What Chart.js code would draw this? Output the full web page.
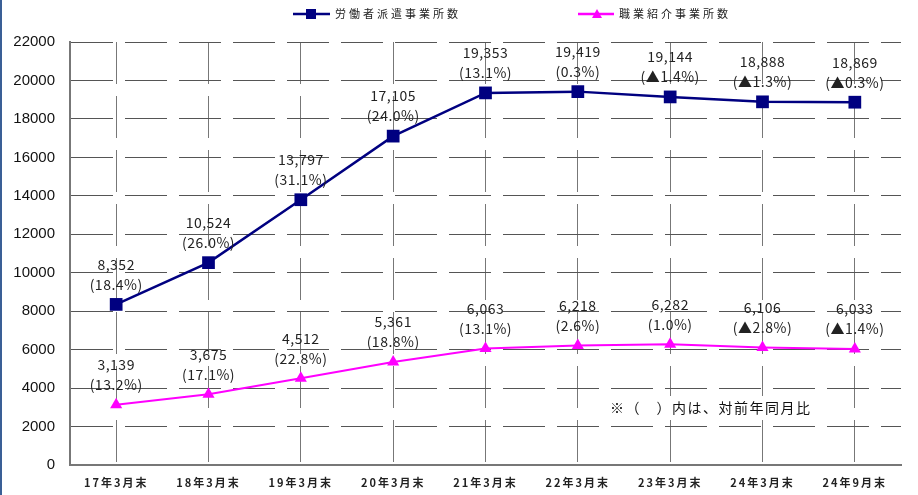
<!DOCTYPE html>
<html>
<head>
<meta charset="utf-8">
<script src="https://cdn.jsdelivr.net/npm/chart.js@4/dist/chart.umd.min.js"></script>
<style>
  html, body { margin: 0; padding: 0; background: #fff; }
  #wrap { position: relative; width: 918px; height: 495px; }
</style>
</head>
<body>
<div id="wrap"><canvas id="chart" width="918" height="495"></canvas></div>
<script>
'use strict';

// Data.
var categories = ['17年3月末', '18年3月末', '19年3月末', '20年3月末', '21年3月末',
  '22年3月末', '23年3月末', '24年3月末', '24年9月末'];
var dispatchCounts = [8352, 10524, 13797, 17105, 19353, 19419, 19144, 18888, 18869];
var dispatchRates = ['18.4%', '26.0%', '31.1%', '24.0%', '13.1%', '0.3%', '▲1.4%', '▲1.3%', '▲0.3%'];
var placementCounts = [3139, 3675, 4512, 5361, 6063, 6218, 6282, 6106, 6033];
var placementRates = ['13.2%', '17.1%', '22.8%', '18.8%', '13.1%', '2.6%', '1.0%', '▲2.8%', '▲1.4%'];
var seriesNames = ['労働者派遣事業所数', '職業紹介事業所数'];
var note = '※（　）内は、対前年同月比';

var NAVY = '#000080',
    MAGENTA = '#ff00ff',
    JP_FONT = '"Noto Sans CJK JP", "Noto Sans", sans-serif';

// Category scale whose tick labels are drawn with a little letter spacing,
// like the original's gothic font.
var CategoryScale = Chart.registry.getScale('category');
class SpacedCategoryScale extends CategoryScale {
  drawLabels(area) {
    var ctx = this.ctx;
    ctx.save();
    ctx.letterSpacing = '2px';
    super.drawLabels(area);
    ctx.restore();
  }
}
SpacedCategoryScale.id = 'spacedCategory';
SpacedCategoryScale.defaults = CategoryScale.defaults;
Chart.register(SpacedCategoryScale);

function formatCount(v) {
  return v.toLocaleString('en-US');
}

// Value labels above each point: count on top, rate in brackets below.
var valueLabels = {
  id: 'valueLabels',
  afterDatasetsDraw: function (chart) {
    var ctx = chart.ctx;
    var rates = [dispatchRates, placementRates];
    ctx.save();
    ctx.font = '14px ' + JP_FONT;
    ctx.letterSpacing = '0.5px';
    ctx.fillStyle = '#222';
    ctx.textAlign = 'center';
    ctx.textBaseline = 'middle';
    chart.data.datasets.forEach(function (ds, di) {
      var meta = chart.getDatasetMeta(di);
      meta.data.forEach(function (pt, i) {
        ctx.fillText(formatCount(ds.data[i]), pt.x, pt.y - 40);
        ctx.fillText('(' + rates[di][i] + ')', pt.x, pt.y - 20);
      });
    });
    ctx.restore();
  }
};

// Legend at the top, note box inside the plot, thin frame line on the left.
var decorations = {
  id: 'decorations',
  afterDraw: function (chart) {
    var ctx = chart.ctx;
    ctx.save();

    // left frame edge
    ctx.fillStyle = '#3a5f96';
    ctx.fillRect(0, 0, 2, chart.height);

    // legend
    var y = 14;
    ctx.lineWidth = 2.5;
    ctx.strokeStyle = NAVY;
    ctx.beginPath(); ctx.moveTo(293, y); ctx.lineTo(330, y); ctx.stroke();
    ctx.fillStyle = NAVY;
    ctx.fillRect(306, y - 5, 10, 10);

    ctx.strokeStyle = MAGENTA;
    ctx.beginPath(); ctx.moveTo(578, y); ctx.lineTo(614, y); ctx.stroke();
    ctx.fillStyle = MAGENTA;
    ctx.beginPath();
    ctx.moveTo(597, y - 5); ctx.lineTo(602, y + 4); ctx.lineTo(592, y + 4);
    ctx.closePath(); ctx.fill();

    ctx.font = '11px ' + JP_FONT;
    ctx.letterSpacing = '3px';
    ctx.fillStyle = '#222';
    ctx.textAlign = 'left';
    ctx.textBaseline = 'middle';
    ctx.fillText(seriesNames[0], 335, y);
    ctx.fillText(seriesNames[1], 619, y);

    // note
    ctx.fillStyle = '#fff';
    ctx.fillRect(602, 396, 222, 24);
    ctx.font = '14px ' + JP_FONT;
    ctx.letterSpacing = '1.5px';
    ctx.fillStyle = '#111';
    ctx.fillText(note, 610, 408);

    ctx.restore();
  }
};

new Chart(document.getElementById('chart'), {
  type: 'line',
  data: {
    labels: categories,
    datasets: [{
      label: seriesNames[0],
      data: dispatchCounts,
      borderColor: NAVY,
      backgroundColor: NAVY,
      borderWidth: 2.5,
      pointStyle: 'rect',
      pointRadius: 9,
      pointBorderWidth: 0,
      tension: 0
    }, {
      label: seriesNames[1],
      data: placementCounts,
      borderColor: MAGENTA,
      backgroundColor: MAGENTA,
      borderWidth: 2,
      pointStyle: 'triangle',
      pointRadius: 7,
      pointBorderWidth: 0,
      tension: 0
    }]
  },
  options: {
    responsive: false,
    animation: false,
    devicePixelRatio: 1,
    layout: { padding: { top: 42, right: 17, bottom: 0, left: 0 } },
    plugins: {
      legend: { display: false },
      tooltip: { enabled: false }
    },
    scales: {
      x: {
        type: 'spacedCategory',
        offset: true,
        afterFit: function (scale) { scale.height = 30; },
        grid: {
          offset: false,
          color: '#777',
          lineWidth: 1,
          drawTicks: false
        },
        border: { display: true, color: '#777', width: 2, dash: [42, 12] },
        ticks: {
          padding: 11,
          color: '#222',
          font: { family: JP_FONT, size: 11, weight: 'bold' },
          maxRotation: 0,
          autoSkip: false
        }
      },
      y: {
        min: 0,
        max: 22000,
        afterFit: function (scale) { scale.width = 70; },
        grid: {
          color: '#555',
          lineWidth: 1,
          drawTicks: false
        },
        border: { display: true, color: '#777', width: 2, dash: [42, 12] },
        ticks: {
          stepSize: 2000,
          padding: 15,
          color: '#111',
          font: { family: '"Liberation Sans", Arial, sans-serif', size: 15 },
          callback: function (v) { return String(v); }
        }
      }
    }
  },
  plugins: [valueLabels, decorations]
});
</script>
</body>
</html>
